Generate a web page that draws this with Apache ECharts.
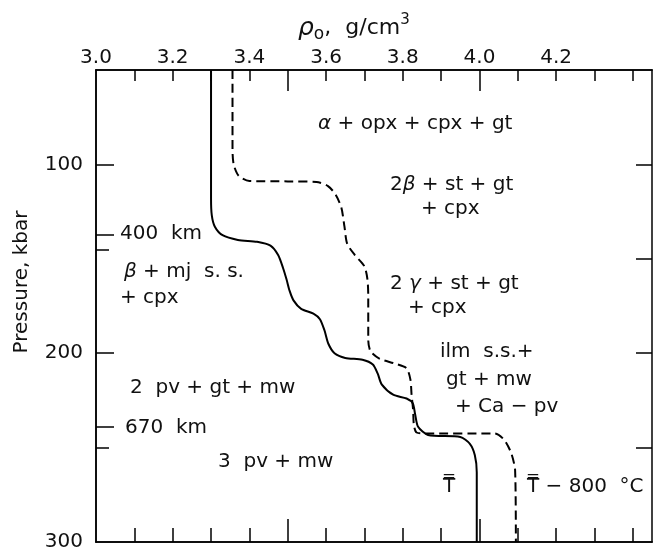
<!DOCTYPE html>
<html><head><meta charset="utf-8">
<script src="https://cdn.jsdelivr.net/npm/echarts@6/dist/echarts.min.js"></script>
<style>html,body{margin:0;padding:0;background:#fff}#c{width:664px;height:552px}</style>
</head><body><div id="c"></div>
<script>
// ---- axis ticks / labels ----
const xTickLabels = [3.0, 3.2, 3.4, 3.6, 3.8, 4.0, 4.2];
const xMinorTicks = [3.1, 3.2, 3.3, 3.4, 3.6, 3.7, 3.8, 3.9, 4.1, 4.2, 4.3, 4.4];
const xMajorTicks = [3.5, 4.0];
const yTickLabels = [100, 200, 300];
const yLeftTicks = [100, 200, 137, 239];
const yLeftShortTicks = [145, 250];
const yRightTicks = [100, 150, 200, 250];

// ---- curves: density (g/cm3) vs pressure (kbar) ----
const solidRho = [3.300,3.300,3.302,3.310,3.330,3.370,3.420,3.455,3.475,3.488,3.497,3.505,3.515,3.535,3.567,3.584,3.596,3.606,3.622,3.650,3.695,3.722,3.735,3.745,3.775,3.810,3.826,3.832,3.840,3.866,3.950,3.975,3.988,3.993,3.993];
const solidP   = [50,118,127,133,137.5,140,141,143,148,155,161,167,172,176.5,179,182,188,195,200,202.5,203.5,206,211,216.5,222,224,226.5,232,239,243.3,244.4,248,254,263,300];
const coldRho  = [3.356,3.356,3.359,3.372,3.400,3.500,3.575,3.605,3.625,3.640,3.648,3.655,3.675,3.700,3.708,3.710,3.710,3.716,3.740,3.780,3.810,3.820,3.823,3.827,3.829,3.836,3.860,4.040,4.065,4.083,4.093,4.095];
const coldP    = [50,92,100,106,108.8,109,109.3,111.5,116,123,133,142,148,154,161,170,193,199,203,205.5,208,214,222,230,238,242,242.5,242.5,246,253,262,300];

const solidData = solidRho.map((r, i) => [r, solidP[i]]);
const coldData = coldRho.map((r, i) => [r, coldP[i]]);

const FONT = 'DejaVu Sans';
const INK = '#111';
const FS = 20;
const chart = echarts.init(document.getElementById('c'), null, {renderer: 'canvas'});

const xBase = {type: 'value', min: 3.0, max: 4.45, splitLine: {show: false},
  axisLine: {show: true, lineStyle: {color: '#000', width: 1.5}}, axisLabel: {show: false}};
const yBase = {type: 'value', min: 50, max: 300, inverse: true, splitLine: {show: false},
  axisLine: {show: true, lineStyle: {color: '#000', width: 1.5}}, axisLabel: {show: false}};

function txt(x, y, text, extra) {
  return Object.assign({type: 'text', x: x, y: y, silent: true,
    style: Object.assign({text: text, fontFamily: FONT, fontSize: FS, fill: INK,
      verticalAlign: 'middle', align: 'left',
      rich: {i: {fontStyle: 'italic', fontFamily: FONT, fontSize: FS, fill: INK}}}, extra || {})});
}

chart.setOption({
  animation: false,
  backgroundColor: '#fff',
  grid: {left: 96, right: 12, top: 70, bottom: 10, containLabel: false, outerBoundsMode: 'none'},
  xAxis: [
    Object.assign({}, xBase, {position: 'top',
      axisTick: {show: true, inside: true, length: 11, customValues: xMinorTicks, lineStyle: {color: '#000', width: 1.5}},
      axisLabel: {show: true, customValues: xTickLabels, margin: 2, fontFamily: FONT, fontSize: FS, color: INK,
        formatter: v => v.toFixed(1)}}),
    Object.assign({}, xBase, {position: 'top',
      axisTick: {show: true, inside: true, length: 21, customValues: xMajorTicks, lineStyle: {color: '#000', width: 1.5}}}),
    Object.assign({}, xBase, {position: 'bottom',
      axisTick: {show: true, inside: true, length: 14, customValues: xMinorTicks, lineStyle: {color: '#000', width: 1.5}}}),
    Object.assign({}, xBase, {position: 'bottom',
      axisTick: {show: true, inside: true, length: 23, customValues: xMajorTicks, lineStyle: {color: '#000', width: 1.5}}})
  ],
  yAxis: [
    Object.assign({}, yBase, {position: 'left',
      axisTick: {show: true, inside: true, length: 18, customValues: yLeftTicks, lineStyle: {color: '#000', width: 1.5}},
      axisLabel: {show: true, customValues: yTickLabels, margin: 13, fontFamily: FONT, fontSize: FS, color: INK}}),
    Object.assign({}, yBase, {position: 'left',
      axisTick: {show: true, inside: true, length: 13, customValues: yLeftShortTicks, lineStyle: {color: '#000', width: 1.5}}}),
    Object.assign({}, yBase, {position: 'right',
      axisTick: {show: true, inside: true, length: 16, customValues: yRightTicks, lineStyle: {color: '#000', width: 1.5}}})
  ],
  series: [
    {type: 'line', name: 'T', xAxisIndex: 0, yAxisIndex: 0, data: solidData, showSymbol: false,
      smooth: 0.25, lineStyle: {color: '#000', width: 2, type: 'solid'}},
    {type: 'line', name: 'T-800', xAxisIndex: 0, yAxisIndex: 0, data: coldData, showSymbol: false,
      smooth: 0.25, lineStyle: {color: '#000', width: 2, type: [9, 5]}}
  ],
  graphic: [
    {type: 'text', x: 298, y: 28, silent: true, style: {
      text: '{r|ρ}{s|o}{b|,  g/cm}{u|3}', fontFamily: FONT, fill: INK, verticalAlign: 'middle',
      rich: {
        r: {fontFamily: FONT, fontSize: 25, fontStyle: 'italic', fill: INK, lineHeight: 30, verticalAlign: 'middle'},
        s: {fontFamily: FONT, fontSize: 17, fill: INK, lineHeight: 15, verticalAlign: 'bottom'},
        b: {fontFamily: FONT, fontSize: 22, fill: INK, lineHeight: 30, verticalAlign: 'middle'},
        u: {fontFamily: FONT, fontSize: 15, fill: INK, lineHeight: 13, verticalAlign: 'top'}
      }}},
    {type: 'text', x: 22, y: 282, rotation: Math.PI / 2, silent: true, style: {
      text: 'Pressure, kbar', fontFamily: FONT, fontSize: FS, fill: INK, align: 'center', verticalAlign: 'middle'}},
    txt(318, 124, '{i|α} + opx + cpx + gt'),
    txt(390, 185, '2{i|β} + st + gt'),
    txt(421, 209, '+ cpx'),
    txt(390, 284, '2 {i|γ} + st + gt'),
    txt(408, 308, '+ cpx'),
    txt(120, 234, '400  km'),
    txt(124, 272, '{i|β} + mj  s. s.'),
    txt(120, 298, '+ cpx'),
    txt(130, 388, '2  pv + gt + mw'),
    txt(125, 428, '670  km'),
    txt(218, 462, '3  pv + mw'),
    txt(440, 352, 'ilm  s.s.+'),
    txt(446, 380, 'gt + mw'),
    txt(455, 407, '+ Ca − pv'),
    txt(443, 487, 'T\u033F'),
    txt(527, 487, 'T\u033F − 800  °C')
  ]
});
</script></body></html>
